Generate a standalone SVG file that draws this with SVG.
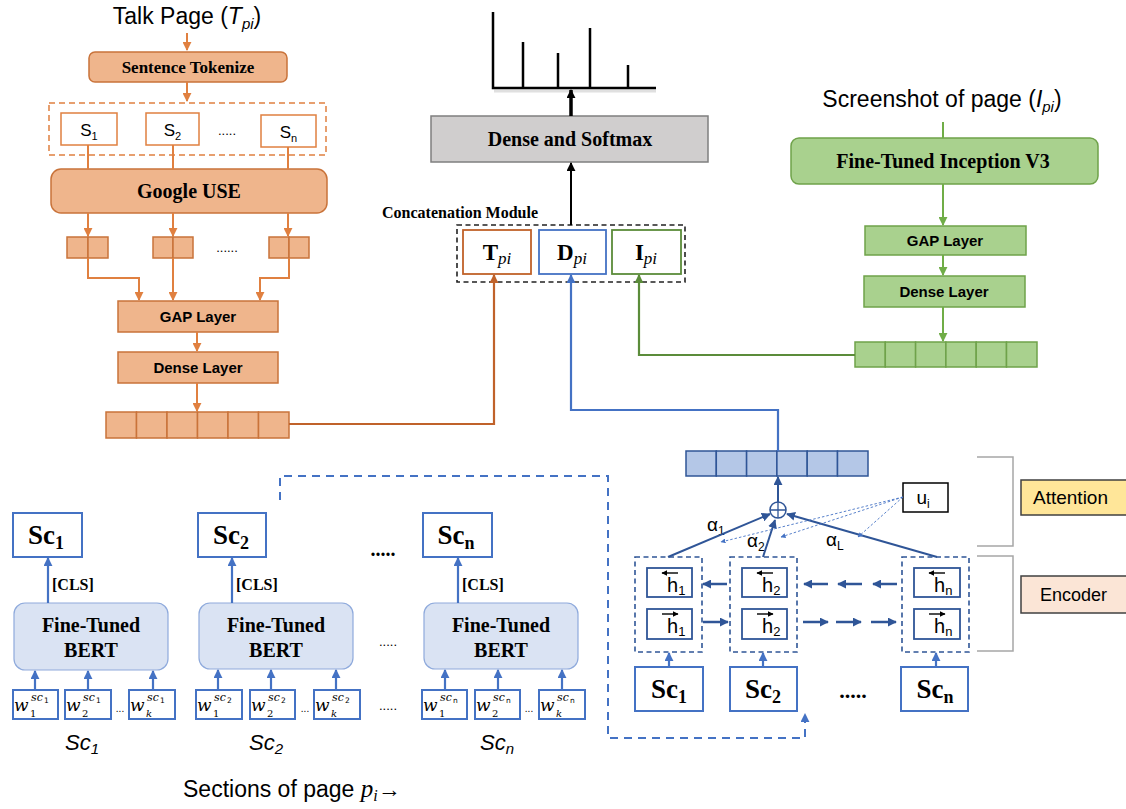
<svg xmlns="http://www.w3.org/2000/svg" width="1126" height="809" viewBox="0 0 1126 809">
<defs>
<style>
.sans{font-family:"Liberation Sans",Arial,sans-serif}
.serif{font-family:"Liberation Serif","Times New Roman",serif}
.bs{font-family:"Liberation Serif","Times New Roman",serif;font-weight:bold}
.bsans{font-family:"Liberation Sans",Arial,sans-serif;font-weight:bold}
.orF{fill:#EFB58C;stroke:#C9733A;stroke-width:1.5}
.orL{fill:none;stroke:#E08040;stroke-width:2}
.orS{fill:#fff;stroke:#E08040;stroke-width:1.5}
.grF{fill:#A9D18E;stroke:#6FA24A;stroke-width:1.5}
.grL{fill:none;stroke:#70AD47;stroke-width:2}
.blS{fill:#fff;stroke:#4472C4;stroke-width:2}
.blL{fill:none;stroke:#4472C4;stroke-width:2.2}
.bert{fill:#DAE3F3;stroke:#8FAADC;stroke-width:1.2}
.vecB{fill:#B4C7E7;stroke:#2F5597;stroke-width:1.5}
.enc{fill:none;stroke:#2F5597;stroke-width:1.6;stroke-dasharray:5,3.5}
.hb{fill:#fff;stroke:#2F5597;stroke-width:1.8}
.dk{fill:none;stroke:#2F5597;stroke-width:2.5}
.wt{font-family:"DejaVu Serif","Liberation Serif",serif}
.ww{font-style:italic;font-size:17px}
.wsub{font-style:normal;font-size:10px}
.wsubi{font-style:italic;font-size:10px}
.wsup{font-style:italic;font-size:11px}
.wtiny{font-family:"DejaVu Sans","Liberation Sans",sans-serif;font-style:normal;font-size:7.5px}
.hl{font-family:"Liberation Sans",Arial,sans-serif;font-size:20px}
</style>
<marker id="aO" viewBox="0 0 10 10" refX="9" refY="5" markerWidth="9" markerHeight="9" markerUnits="userSpaceOnUse" orient="auto"><path d="M0,0 L10,5 L0,10 z" fill="#E08040"/></marker>
<marker id="aO2" viewBox="0 0 10 10" refX="9" refY="5" markerWidth="9" markerHeight="9" markerUnits="userSpaceOnUse" orient="auto"><path d="M0,0 L10,5 L0,10 z" fill="#C0622A"/></marker>
<marker id="aG" viewBox="0 0 10 10" refX="9" refY="5" markerWidth="9" markerHeight="9" markerUnits="userSpaceOnUse" orient="auto"><path d="M0,0 L10,5 L0,10 z" fill="#70AD47"/></marker>
<marker id="aG2" viewBox="0 0 10 10" refX="9" refY="5" markerWidth="9" markerHeight="9" markerUnits="userSpaceOnUse" orient="auto"><path d="M0,0 L10,5 L0,10 z" fill="#5B8C3A"/></marker>
<marker id="aB" viewBox="0 0 10 10" refX="9" refY="5" markerWidth="9" markerHeight="9" markerUnits="userSpaceOnUse" orient="auto"><path d="M0,0 L10,5 L0,10 z" fill="#4472C4"/></marker>
<marker id="aD" viewBox="0 0 10 10" refX="9" refY="5" markerWidth="9" markerHeight="9" markerUnits="userSpaceOnUse" orient="auto"><path d="M0,0 L10,5 L0,10 z" fill="#2F5597"/></marker>
<marker id="aDs" viewBox="0 0 10 10" refX="9" refY="5" markerWidth="5" markerHeight="5" markerUnits="userSpaceOnUse" orient="auto"><path d="M0,0 L10,5 L0,10 z" fill="#4472C4"/></marker>
<marker id="aK" viewBox="0 0 10 10" refX="9" refY="5" markerWidth="9" markerHeight="9" markerUnits="userSpaceOnUse" orient="auto"><path d="M0,0 L10,5 L0,10 z" fill="#000"/></marker>
<marker id="aH" viewBox="0 0 10 10" refX="9" refY="5" markerWidth="6" markerHeight="6" markerUnits="userSpaceOnUse" orient="auto"><path d="M0,0 L10,5 L0,10 z" fill="#000"/></marker>
</defs>
<rect width="1126" height="809" fill="#fff"/>

<!-- ============ Talk page branch ============ -->
<g id="talk-title"><text class="sans" x="187" y="24" font-size="23" text-anchor="middle">Talk Page (<tspan font-style="italic">T</tspan><tspan font-style="italic" font-size="15" dy="5">pi</tspan><tspan dy="-5">)</tspan></text></g>
<g id="sentence-tokenize"><rect class="orF" x="89" y="52" width="198" height="30" rx="6"/><text class="bs" x="188" y="72.5" font-size="17" text-anchor="middle">Sentence Tokenize</text></g>
<g id="sentences">
<rect x="49" y="103" width="277" height="52" fill="none" stroke="#E08040" stroke-width="1.5" stroke-dasharray="6,4"/>
<rect class="orS" x="61" y="113" width="56" height="32"/><text class="sans" x="89" y="136" font-size="17" text-anchor="middle">S<tspan font-size="11" dy="4">1</tspan></text>
<rect class="orS" x="146" y="113" width="53" height="32"/><text class="sans" x="172.5" y="136" font-size="17" text-anchor="middle">S<tspan font-size="11" dy="4">2</tspan></text>
<text class="sans" x="227" y="135" font-size="13" text-anchor="middle">.....</text>
<rect class="orS" x="261" y="115" width="55" height="32"/><text class="sans" x="288.5" y="138" font-size="17" text-anchor="middle">S<tspan font-size="11" dy="4">n</tspan></text>
</g>
<g id="google-use"><rect class="orF" x="51" y="169" width="276" height="44" rx="10"/><text class="bs" x="189" y="198" font-size="20" text-anchor="middle">Google USE</text></g>
<g id="use-vectors">
<rect class="orF" x="67" y="237" width="21" height="21"/><rect class="orF" x="88" y="237" width="20" height="21"/>
<rect class="orF" x="153" y="237" width="20" height="21"/><rect class="orF" x="173" y="237" width="20" height="21"/>
<text class="sans" x="227" y="252" font-size="13" text-anchor="middle">......</text>
<rect class="orF" x="269" y="237" width="20" height="21"/><rect class="orF" x="289" y="237" width="20" height="21"/>
</g>
<g id="gap-talk"><rect class="orF" x="118" y="301" width="160" height="31"/><text class="bsans" x="198" y="322" font-size="15" text-anchor="middle">GAP Layer</text></g>
<g id="dense-talk"><rect class="orF" x="118" y="352" width="160" height="31"/><text class="bsans" x="198" y="373" font-size="15" text-anchor="middle">Dense Layer</text></g>
<g id="talk-vector">
<rect class="orF" x="106" y="412" width="30.5" height="26"/><rect class="orF" x="136.5" y="412" width="30.5" height="26"/><rect class="orF" x="167" y="412" width="30.5" height="26"/><rect class="orF" x="197.5" y="412" width="30.5" height="26"/><rect class="orF" x="228" y="412" width="30.5" height="26"/><rect class="orF" x="258.5" y="412" width="30.5" height="26"/>
</g>

<!-- ============ Output ============ -->
<g id="chart">
<path d="M494,91 H656" stroke="#ccc" stroke-width="3" opacity="0.6" fill="none"/>
<path d="M493,12 V88 H656 M523,88 V42 M558,88 V53 M590,88 V28 M628,88 V65" fill="none" stroke="#000" stroke-width="2.5"/>
</g>
<g id="dense-softmax"><rect x="431" y="116" width="277" height="46" fill="#D0CECE" stroke="#7F7F7F" stroke-width="1.5"/><text class="bs" x="570" y="146" font-size="20" text-anchor="middle">Dense and Softmax</text></g>
<g id="concat">
<text class="bs" x="382" y="218" font-size="16">Concatenation Module</text>
<rect x="457" y="225" width="228" height="57" fill="none" stroke="#222" stroke-width="1.6" stroke-dasharray="5,3.5"/>
<rect x="463" y="230" width="68" height="44" fill="#fff" stroke="#C0622A" stroke-width="1.8"/>
<text x="497" y="260" text-anchor="middle"><tspan class="bs" font-size="23">T</tspan><tspan class="serif" font-style="italic" font-size="17" dy="4">pi</tspan></text>
<rect x="539" y="230" width="67" height="44" fill="#fff" stroke="#4472C4" stroke-width="1.8"/>
<text x="572" y="260" text-anchor="middle"><tspan class="bs" font-size="23">D</tspan><tspan class="serif" font-style="italic" font-size="17" dy="4">pi</tspan></text>
<rect x="612" y="230" width="69" height="44" fill="#fff" stroke="#5B8C3A" stroke-width="1.8"/>
<text x="646" y="260" text-anchor="middle"><tspan class="bs" font-size="23">I</tspan><tspan class="serif" font-style="italic" font-size="17" dy="4">pi</tspan></text>
</g>

<!-- ============ Screenshot branch ============ -->
<g id="screenshot-title"><text class="sans" x="942" y="107" font-size="23" text-anchor="middle">Screenshot of page (<tspan font-style="italic">I</tspan><tspan font-style="italic" font-size="15" dy="5">pi</tspan><tspan dy="-5">)</tspan></text></g>
<g id="inception"><rect class="grF" x="791" y="138" width="307" height="46" rx="8"/><text class="bs" x="943" y="168" font-size="20" text-anchor="middle">Fine-Tuned Inception V3</text></g>
<g id="gap-img"><rect class="grF" x="865" y="226" width="161" height="29"/><text class="bsans" x="945" y="246" font-size="15" text-anchor="middle">GAP Layer</text></g>
<g id="dense-img"><rect class="grF" x="864" y="276" width="161" height="31"/><text class="bsans" x="944" y="297" font-size="15" text-anchor="middle">Dense Layer</text></g>
<g id="img-vector">
<rect class="grF" x="855" y="342" width="30.3" height="25"/><rect class="grF" x="885.3" y="342" width="30.3" height="25"/><rect class="grF" x="915.6" y="342" width="30.3" height="25"/><rect class="grF" x="945.9" y="342" width="30.3" height="25"/><rect class="grF" x="976.2" y="342" width="30.3" height="25"/><rect class="grF" x="1006.5" y="342" width="30.5" height="25"/>
</g>

<!-- ============ BERT sections ============ -->
<g id="sec1">
<rect class="blS" x="13" y="513" width="69" height="44"/><text class="bs" x="46" y="544" font-size="27" text-anchor="middle">Sc<tspan font-size="18" dy="5">1</tspan></text>
<text class="bs" x="52" y="590" font-size="16">[CLS]</text>
<rect class="bert" x="14" y="603" width="154" height="67" rx="11"/>
<text class="bs" x="91" y="632" font-size="20" text-anchor="middle">Fine-Tuned</text><text class="bs" x="91" y="657" font-size="20" text-anchor="middle">BERT</text>
<rect class="blS" x="13" y="690" width="45" height="29" stroke-width="1.5"/>
<text class="wt"><tspan class="ww" x="14" y="711">w</tspan><tspan class="wsub" x="30" y="717">1</tspan><tspan class="wsup" x="31" y="701">sc</tspan><tspan class="wtiny" x="44" y="703">1</tspan></text>
<rect class="blS" x="65" y="690" width="46" height="29" stroke-width="1.5"/>
<text class="wt"><tspan class="ww" x="66" y="711">w</tspan><tspan class="wsub" x="82" y="717">2</tspan><tspan class="wsup" x="83" y="701">sc</tspan><tspan class="wtiny" x="96" y="703">1</tspan></text>
<text class="sans" x="120" y="712" font-size="10" text-anchor="middle">...</text>
<rect class="blS" x="129" y="690" width="46" height="29" stroke-width="1.5"/>
<text class="wt"><tspan class="ww" x="130" y="711">w</tspan><tspan class="wsubi" x="146" y="717">k</tspan><tspan class="wsup" x="147" y="701">sc</tspan><tspan class="wtiny" x="160" y="703">1</tspan></text>
<text class="sans" x="82" y="750" font-size="22" font-style="italic" text-anchor="middle">Sc<tspan font-size="15" dy="4">1</tspan></text>
</g>
<g id="sec2">
<rect class="blS" x="198" y="513" width="68" height="44"/><text class="bs" x="231" y="544" font-size="27" text-anchor="middle">Sc<tspan font-size="18" dy="5">2</tspan></text>
<text class="bs" x="236" y="590" font-size="16">[CLS]</text>
<rect class="bert" x="199" y="603" width="154" height="66" rx="11"/>
<text class="bs" x="276" y="632" font-size="20" text-anchor="middle">Fine-Tuned</text><text class="bs" x="276" y="657" font-size="20" text-anchor="middle">BERT</text>
<rect class="blS" x="196" y="690" width="46" height="29" stroke-width="1.5"/>
<text class="wt"><tspan class="ww" x="197" y="711">w</tspan><tspan class="wsub" x="213" y="717">1</tspan><tspan class="wsup" x="214" y="701">sc</tspan><tspan class="wtiny" x="227" y="703">2</tspan></text>
<rect class="blS" x="250" y="690" width="45" height="29" stroke-width="1.5"/>
<text class="wt"><tspan class="ww" x="251" y="711">w</tspan><tspan class="wsub" x="267" y="717">2</tspan><tspan class="wsup" x="268" y="701">sc</tspan><tspan class="wtiny" x="281" y="703">2</tspan></text>
<text class="sans" x="305" y="712" font-size="10" text-anchor="middle">...</text>
<rect class="blS" x="314" y="690" width="46" height="29" stroke-width="1.5"/>
<text class="wt"><tspan class="ww" x="315" y="711">w</tspan><tspan class="wsubi" x="331" y="717">k</tspan><tspan class="wsup" x="332" y="701">sc</tspan><tspan class="wtiny" x="345" y="703">2</tspan></text>
<text class="sans" x="266" y="750" font-size="22" font-style="italic" text-anchor="middle">Sc<tspan font-size="15" dy="4">2</tspan></text>
</g>
<g id="sec-dots">
<text class="bs" x="383" y="556" font-size="20" text-anchor="middle">.....</text>
<text class="sans" x="388" y="646" font-size="13" text-anchor="middle">.....</text>
<text class="sans" x="388" y="710" font-size="13" text-anchor="middle">.....</text>
</g>
<g id="secn">
<rect class="blS" x="423" y="513" width="69" height="44"/><text class="bs" x="456" y="544" font-size="27" text-anchor="middle">Sc<tspan font-size="18" dy="5">n</tspan></text>
<text class="bs" x="462" y="590" font-size="16">[CLS]</text>
<rect class="bert" x="424" y="603" width="154" height="66" rx="11"/>
<text class="bs" x="501" y="632" font-size="20" text-anchor="middle">Fine-Tuned</text><text class="bs" x="501" y="657" font-size="20" text-anchor="middle">BERT</text>
<rect class="blS" x="422" y="690" width="45" height="29" stroke-width="1.5"/>
<text class="wt"><tspan class="ww" x="423" y="711">w</tspan><tspan class="wsub" x="439" y="717">1</tspan><tspan class="wsup" x="440" y="701">sc</tspan><tspan class="wtiny" x="453" y="703">n</tspan></text>
<rect class="blS" x="475" y="690" width="45" height="29" stroke-width="1.5"/>
<text class="wt"><tspan class="ww" x="476" y="711">w</tspan><tspan class="wsub" x="492" y="717">2</tspan><tspan class="wsup" x="493" y="701">sc</tspan><tspan class="wtiny" x="506" y="703">n</tspan></text>
<text class="sans" x="529" y="712" font-size="10" text-anchor="middle">...</text>
<rect class="blS" x="539" y="690" width="46" height="29" stroke-width="1.5"/>
<text class="wt"><tspan class="ww" x="540" y="711">w</tspan><tspan class="wsubi" x="556" y="717">k</tspan><tspan class="wsup" x="557" y="701">sc</tspan><tspan class="wtiny" x="570" y="703">n</tspan></text>
<text class="sans" x="497" y="750" font-size="22" font-style="italic" text-anchor="middle">Sc<tspan font-size="15" dy="4">n</tspan></text>
</g>
<g id="sections-caption"><text class="sans" x="183" y="797" font-size="23">Sections of page <tspan class="serif" font-style="italic" font-size="25">p</tspan><tspan class="serif" font-style="italic" font-size="16" dy="4">i</tspan><tspan dy="-4" font-weight="bold">→</tspan></text></g>

<!-- ============ Encoder / Attention ============ -->
<g id="doc-vector">
<rect class="vecB" x="686" y="451" width="30.3" height="25"/><rect class="vecB" x="716.3" y="451" width="30.3" height="25"/><rect class="vecB" x="746.6" y="451" width="30.3" height="25"/><rect class="vecB" x="776.9" y="451" width="30.3" height="25"/><rect class="vecB" x="807.2" y="451" width="30.3" height="25"/><rect class="vecB" x="837.5" y="451" width="30.5" height="25"/>
</g>
<g id="sum-node"><circle cx="778" cy="510" r="8" fill="#fff" stroke="#2F5597" stroke-width="1.5"/><path d="M770,510 H786 M778,502 V518" stroke="#2F5597" stroke-width="1.3"/></g>
<g id="ui"><rect x="903" y="483" width="45" height="29" fill="#fff" stroke="#000" stroke-width="1.5"/><text class="sans" x="923" y="504" font-size="19" text-anchor="middle">u<tspan font-size="12" dy="4">i</tspan></text></g>
<g id="alpha-labels">
<text class="sans" x="707" y="531" font-size="19">α<tspan font-size="12" dy="4">1</tspan></text>
<text class="sans" x="747" y="547" font-size="19">α<tspan font-size="12" dy="4">2</tspan></text>
<text class="sans" x="826" y="546" font-size="19">α<tspan font-size="12" dy="4">L</tspan></text>
</g>
<g id="enc1">
<rect class="enc" x="635" y="557" width="67" height="95"/>
<rect class="hb" x="647" y="568" width="45" height="29"/><text class="hl" x="667" y="592">h<tspan font-size="13" dy="3">1</tspan></text><path d="M678,573 H662" stroke="#000" stroke-width="1.4" marker-end="url(#aH)"/>
<rect class="hb" x="647" y="609" width="45" height="30"/><text class="hl" x="667" y="633">h<tspan font-size="13" dy="3">1</tspan></text><path d="M662,614 H678" stroke="#000" stroke-width="1.4" marker-end="url(#aH)"/>
</g>
<g id="enc2">
<rect class="enc" x="730" y="557" width="67" height="95"/>
<rect class="hb" x="742" y="568" width="45" height="29"/><text class="hl" x="762" y="592">h<tspan font-size="13" dy="3">2</tspan></text><path d="M773,573 H757" stroke="#000" stroke-width="1.4" marker-end="url(#aH)"/>
<rect class="hb" x="742" y="609" width="45" height="30"/><text class="hl" x="762" y="633">h<tspan font-size="13" dy="3">2</tspan></text><path d="M757,614 H773" stroke="#000" stroke-width="1.4" marker-end="url(#aH)"/>
</g>
<g id="encn">
<rect class="enc" x="902" y="557" width="67" height="95"/>
<rect class="hb" x="914" y="568" width="46" height="29"/><text class="hl" x="934" y="592">h<tspan font-size="13" dy="3">n</tspan></text><path d="M945,573 H929" stroke="#000" stroke-width="1.4" marker-end="url(#aH)"/>
<rect class="hb" x="914" y="609" width="46" height="30"/><text class="hl" x="934" y="633">h<tspan font-size="13" dy="3">n</tspan></text><path d="M929,614 H945" stroke="#000" stroke-width="1.4" marker-end="url(#aH)"/>
</g>
<g id="enc-sc">
<rect class="blS" x="635" y="667" width="68" height="44"/><text class="bs" x="669" y="698" font-size="27" text-anchor="middle">Sc<tspan font-size="18" dy="5">1</tspan></text>
<rect class="blS" x="730" y="667" width="67" height="44"/><text class="bs" x="763" y="698" font-size="27" text-anchor="middle">Sc<tspan font-size="18" dy="5">2</tspan></text>
<text class="bs" x="853" y="698" font-size="22" text-anchor="middle">.....</text>
<rect class="blS" x="901" y="667" width="67" height="44"/><text class="bs" x="935" y="698" font-size="27" text-anchor="middle">Sc<tspan font-size="18" dy="5">n</tspan></text>
</g>
<g id="brackets">
<path d="M977,457 H1013 V546 H977 M977,556 H1013 V651 H977" fill="none" stroke="#A6A6A6" stroke-width="1.5"/>
</g>
<g id="attention-label"><rect x="1021" y="480" width="110" height="35" fill="#FFE699" stroke="#404040" stroke-width="1.5"/><text class="sans" x="1033" y="504" font-size="19">Attention</text></g>
<g id="encoder-label"><rect x="1021" y="576" width="110" height="37" fill="#FBE5D6" stroke="#404040" stroke-width="1.5"/><text class="sans" x="1040" y="601" font-size="18">Encoder</text></g>

<!-- ============ Connectors ============ -->
<g id="connectors">
<path class="orL" d="M187,33 V50" marker-end="url(#aO)"/>
<path class="orL" d="M187,82 V101" marker-end="url(#aO)"/>
<path class="orL" d="M88,145 V169 M173,145 V169 M288,147 V169"/>
<path class="orL" d="M88,213 V236" marker-end="url(#aO)"/>
<path class="orL" d="M173,213 V236" marker-end="url(#aO)"/>
<path class="orL" d="M288,213 V236" marker-end="url(#aO)"/>
<path class="orL" d="M88,258 V278 H139 V300" marker-end="url(#aO)"/>
<path class="orL" d="M173,258 V300" marker-end="url(#aO)"/>
<path class="orL" d="M289,258 V278 H260 V300" marker-end="url(#aO)"/>
<path class="orL" d="M197,332 V351" marker-end="url(#aO)"/>
<path class="orL" d="M197,383 V411" marker-end="url(#aO)"/>
<path d="M289,424 H494 V275" fill="none" stroke="#C0622A" stroke-width="2.2" marker-end="url(#aO2)"/>
<path d="M778,451 V410 H571 V275" fill="none" stroke="#4472C4" stroke-width="2.2" marker-end="url(#aB)"/>
<path d="M855,355 H639 V275" fill="none" stroke="#5B8C3A" stroke-width="2.2" marker-end="url(#aG2)"/>
<path d="M571,225 V163" fill="none" stroke="#000" stroke-width="2" marker-end="url(#aK)"/>
<path d="M571,116 V90" fill="none" stroke="#000" stroke-width="3.5" marker-end="url(#aK)"/>
<path class="grL" d="M943,122 V138"/>
<path class="grL" d="M943,184 V225" marker-end="url(#aG)"/>
<path class="grL" d="M943,255 V275" marker-end="url(#aG)"/>
<path class="grL" d="M943,307 V341" marker-end="url(#aG)"/>
<path class="blL" d="M48,603 V558" marker-end="url(#aB)"/>
<path class="blL" d="M232,603 V558" marker-end="url(#aB)"/>
<path class="blL" d="M458,603 V558" marker-end="url(#aB)"/>
<path class="blL" d="M35,690 V671" marker-end="url(#aB)"/>
<path class="blL" d="M88,690 V671" marker-end="url(#aB)"/>
<path class="blL" d="M153,690 V671" marker-end="url(#aB)"/>
<path class="blL" d="M218,690 V670" marker-end="url(#aB)"/>
<path class="blL" d="M271,690 V670" marker-end="url(#aB)"/>
<path class="blL" d="M336,690 V670" marker-end="url(#aB)"/>
<path class="blL" d="M445,690 V670" marker-end="url(#aB)"/>
<path class="blL" d="M498,690 V670" marker-end="url(#aB)"/>
<path class="blL" d="M562,690 V670" marker-end="url(#aB)"/>
<path d="M280,500 V476 H608 V738 H805 V714" fill="none" stroke="#4472C4" stroke-width="2" stroke-dasharray="8,6" marker-end="url(#aB)"/>
<path class="blL" d="M669,667 V653" marker-end="url(#aB)"/>
<path class="blL" d="M763,667 V653" marker-end="url(#aB)"/>
<path class="blL" d="M936,667 V653" marker-end="url(#aB)"/>
<path d="M668,557 L770,514" fill="none" stroke="#2F5597" stroke-width="2" marker-end="url(#aD)"/>
<path d="M763,557 L775,520" fill="none" stroke="#2F5597" stroke-width="2" marker-end="url(#aD)"/>
<path d="M937,557 L787,514" fill="none" stroke="#2F5597" stroke-width="2" marker-end="url(#aD)"/>
<path d="M778,502 V477" fill="none" stroke="#2F5597" stroke-width="2" marker-end="url(#aD)"/>
<path d="M903,497 L721,542" fill="none" stroke="#4472C4" stroke-width="0.9" stroke-dasharray="2.5,2" marker-end="url(#aDs)"/>
<path d="M903,497 L781,537" fill="none" stroke="#4472C4" stroke-width="0.9" stroke-dasharray="2.5,2" marker-end="url(#aDs)"/>
<path d="M903,497 L858,537" fill="none" stroke="#4472C4" stroke-width="0.9" stroke-dasharray="2.5,2" marker-end="url(#aDs)"/>
<path class="dk" d="M727,584 H703" marker-end="url(#aD)"/>
<path class="dk" d="M828,584 H804" marker-end="url(#aD)"/>
<path class="dk" d="M862,584 H838" marker-end="url(#aD)"/>
<path class="dk" d="M897,584 H873" marker-end="url(#aD)"/>
<path class="dk" d="M703,622 H728" marker-end="url(#aD)"/>
<path class="dk" d="M803,622 H828" marker-end="url(#aD)"/>
<path class="dk" d="M836,622 H861" marker-end="url(#aD)"/>
<path class="dk" d="M871,622 H896" marker-end="url(#aD)"/>
</g>
</svg>
